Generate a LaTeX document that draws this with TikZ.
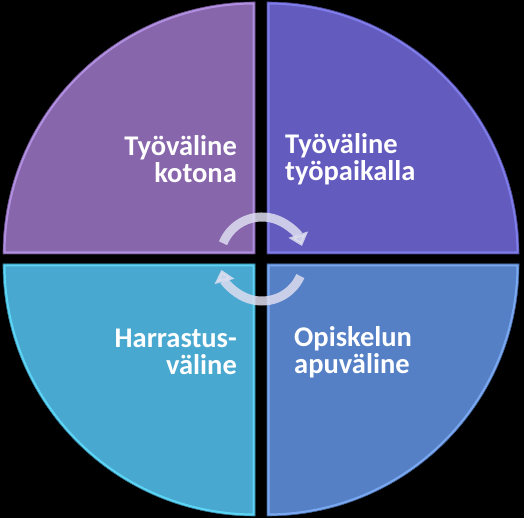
\documentclass[tikz,border=0pt]{standalone}
\usepackage{fontspec}
\setmainfont{Carlito}
\usetikzlibrary{arrows.meta}
\definecolor{homepurple}{RGB}{135,102,172}
\definecolor{homelight}{RGB}{176,143,224}
\definecolor{workviolet}{RGB}{99,91,190}
\definecolor{worklight}{RGB}{127,125,234}
\definecolor{hobbycyan}{RGB}{72,168,208}
\definecolor{hobbylight}{RGB}{92,212,244}
\definecolor{studyblue}{RGB}{85,128,198}
\definecolor{studylight}{RGB}{122,168,240}
\definecolor{ringwhite}{RGB}{222,222,240}

\tikzset{
  label text/.style={text=white, font=\fontsize{28.5}{27}\selectfont\bfseries, inner sep=0pt},
  ring arrow/.style={line width=9pt, draw=ringwhite, opacity=0.85, -{Triangle[width=20pt,length=12pt]}}
}
\newcommand{\quarter}[3]{%
  \fill[#2] #1;
  \begin{scope}\clip #1; \draw[#3, line width=5pt] #1; \end{scope}
  \draw[#2!70!black, line width=0.6pt] #1;
}

\begin{document}
\begin{tikzpicture}[x=1pt,y=1pt]

\fill[black] (0,0) rectangle (524,518);
\useasboundingbox (0,0) rectangle (524,518);

% four quarters of the disc
\quarter{(255,264) -- (3,264) arc[start angle=180,end angle=90,radius=252] -- cycle}{homepurple}{homelight}
\quarter{(267,264) -- (267,516) arc[start angle=90,end angle=0,radius=252] -- cycle}{workviolet}{worklight}
\quarter{(255,254) -- (255,2) arc[start angle=270,end angle=180,radius=252] -- cycle}{hobbycyan}{hobbylight}
\quarter{(267,254) -- (519,254) arc[start angle=0,end angle=-90,radius=252] -- cycle}{studyblue}{studylight}

\node[label text, align=right, anchor=east] (home) at (237,359) {Työväline\\kotona};
\node[label text, align=left, anchor=west] (work) at (285,359) {Työväline\\työpaikalla};
\node[label text, align=right, anchor=east] (hobby) at (237,166) {Harrastus-\\väline};
\node[label text, align=left, anchor=west] (study) at (294,166) {Opiskelun\\apuväline};

% cycle arrows
\coordinate (hub) at (262,259);
\draw[ring arrow] ([shift={(158:42)}]hub) arc[start angle=158,end angle=18,radius=42];
\draw[ring arrow] ([shift={(-24:42)}]hub) arc[start angle=-24,end angle=-165,radius=42];

\end{tikzpicture}
\end{document}
